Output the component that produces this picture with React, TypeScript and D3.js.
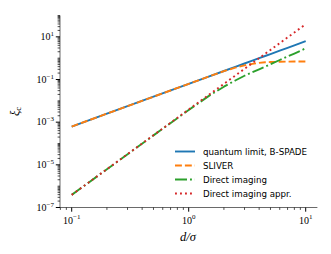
import React from 'react';
import * as d3 from 'd3';

// separation d/sigma
const dValues = [0.1, 0.2, 0.5, 1, 1.5, 2, 2.5, 3, 3.5, 4, 4.5, 5, 6, 7, 8, 10];

// xi_c for each method
const quantumLimit = [0.000625, 0.0025, 0.015625, 0.0625, 0.1406, 0.25, 0.3906, 0.5625, 0.7656, 1.0, 1.2656, 1.5625, 2.25, 3.0625, 4.0, 6.25];
const sliver = [0.000625, 0.0025, 0.015625, 0.0625, 0.14, 0.245, 0.36, 0.46, 0.54, 0.6, 0.64, 0.66, 0.68, 0.69, 0.7, 0.7];
const directImaging = [3.9e-7, 6.2e-6, 2.4e-4, 3.75e-3, 0.0175, 0.046, 0.09, 0.15, 0.22, 0.3, 0.4, 0.52, 0.82, 1.2, 1.65, 2.9];
const directImagingAppr = [3.906e-7, 6.25e-6, 2.441e-4, 3.906e-3, 0.01978, 0.0625, 0.1526, 0.3164, 0.5862, 1.0, 1.6018, 2.4414, 5.0625, 9.3789, 16, 39.0625];

const seriesNames = ['quantum limit, B-SPADE', 'SLIVER', 'Direct imaging', 'Direct imaging appr.'];
const seriesColors = ['#1f77b4', '#ff7f0e', '#2ca02c', '#d62728'];
const seriesDashes = ['none', '6.9,3', '12,3,1.9,3', '1.9,3.1'];

const xMajor = [-1, 0, 1];
const yMajor = [-7, -5, -3, -1, 1];

const width = 331;
const height = 254;

const mathFont = '"Liberation Serif", serif';

function Pow10({x, y, exp, anchor}: {x: number; y: number; exp: number; anchor: string}) {
    const e = exp < 0 ? '\u2212' + Math.abs(exp) : String(exp);
    return (
        <text x={x} y={y} textAnchor={anchor} fontFamily={mathFont} fontSize={10} fill="#000">
            10<tspan dy={-4.2} fontSize={7}>{e}</tspan>
        </text>
    );
}

export default function App() {
    const x = d3.scaleLog().domain([Math.pow(10, -1.1), Math.pow(10, 1.1)]).range([60, 305.7 + 11.7]);
    const y = d3.scaleLog().domain([1e-7, 1e2]).range([207.5, 15.5]);

    const allSeries = [quantumLimit, sliver, directImaging, directImagingAppr];
    const line = d3.line<[number, number]>()
        .x(p => x(p[0]))
        .y(p => y(p[1]));

    // minor ticks: 2..9 in every decade inside the domain
    const [x0, x1] = x.domain();
    const xMinor: number[] = [];
    for (let e = -2; e <= 1; e++) {
        for (let k = 2; k <= 9; k++) {
            const v = k * Math.pow(10, e);
            if (v >= x0 && v <= x1) xMinor.push(v);
        }
    }
    const yMinor: number[] = [];
    for (let e = -7; e <= 1; e++) {
        for (let k = 1; k <= 9; k++) {
            if (k === 1 && yMajor.includes(e)) continue;
            const v = k * Math.pow(10, e);
            if (v >= 1e-7 && v <= 1e2) yMinor.push(v);
        }
    }
    yMinor.push(1e2);

    const left = x.range()[0];
    const bottom = y.range()[0];

    const legendY = [151.5, 165.5, 179.5, 193.5];

    return (
        <svg width={width} height={height} style={{position: 'absolute', left: 0, top: 0}}>
            <rect width={width} height={height} fill="#fff"/>

            {allSeries.map((vals, i) => (
                <path key={i}
                      d={line(dValues.map((d, j) => [d, vals[j]] as [number, number])) || ''}
                      fill="none"
                      stroke={seriesColors[i]}
                      strokeWidth={1.9}
                      strokeDasharray={seriesDashes[i]}
                      strokeLinejoin="round"/>
            ))}

            {/* spines */}
            <line x1={left} x2={left} y1={y.range()[1]} y2={bottom} stroke="#444" strokeWidth={0.8}/>
            <line x1={left} x2={x.range()[1]} y1={bottom} y2={bottom} stroke="#444" strokeWidth={0.8}/>

            {/* x ticks */}
            {xMinor.map(v => (
                <line key={'xm' + v} x1={x(v)} x2={x(v)} y1={bottom} y2={bottom + 2.4} stroke="#000" strokeWidth={0.7}/>
            ))}
            {xMajor.map(e => (
                <g key={'xM' + e}>
                    <line x1={x(Math.pow(10, e))} x2={x(Math.pow(10, e))} y1={bottom} y2={bottom + 4.2} stroke="#000" strokeWidth={1}/>
                    <Pow10 x={x(Math.pow(10, e))} y={223.5} exp={e} anchor="middle"/>
                </g>
            ))}

            {/* y ticks */}
            {yMinor.map(v => (
                <line key={'ym' + v} x1={left - 2.4} x2={left} y1={y(v)} y2={y(v)} stroke="#000" strokeWidth={0.7}/>
            ))}
            {yMajor.map(e => (
                <g key={'yM' + e}>
                    <line x1={left - 4.2} x2={left} y1={y(Math.pow(10, e))} y2={y(Math.pow(10, e))} stroke="#000" strokeWidth={1}/>
                    <Pow10 x={54} y={y(Math.pow(10, e)) + 3.2} exp={e} anchor="end"/>
                </g>
            ))}

            {/* axis labels */}
            <text x={188} y={240.5} textAnchor="middle" fontFamily={mathFont} fontStyle="italic" fontSize={12.5}>
                d/σ
            </text>
            <text transform={`translate(18.5,${(y.range()[0] + y.range()[1]) / 2}) rotate(-90)`}
                  textAnchor="middle" fontFamily={mathFont} fontStyle="italic" fontSize={12.5}>
                ξ<tspan dy={2.5} fontSize={8.5} fontStyle="normal">c</tspan>
            </text>

            {/* legend */}
            {seriesNames.map((name, i) => (
                <g key={name}>
                    <line x1={175} x2={195} y1={legendY[i]} y2={legendY[i]}
                          stroke={seriesColors[i]} strokeWidth={1.9} strokeDasharray={seriesDashes[i]}/>
                    <text x={203} y={legendY[i]} dy="0.35em" fontFamily='"DejaVu Sans", sans-serif' fontSize={8.7} fill="#000">
                        {name}
                    </text>
                </g>
            ))}
        </svg>
    );
}
